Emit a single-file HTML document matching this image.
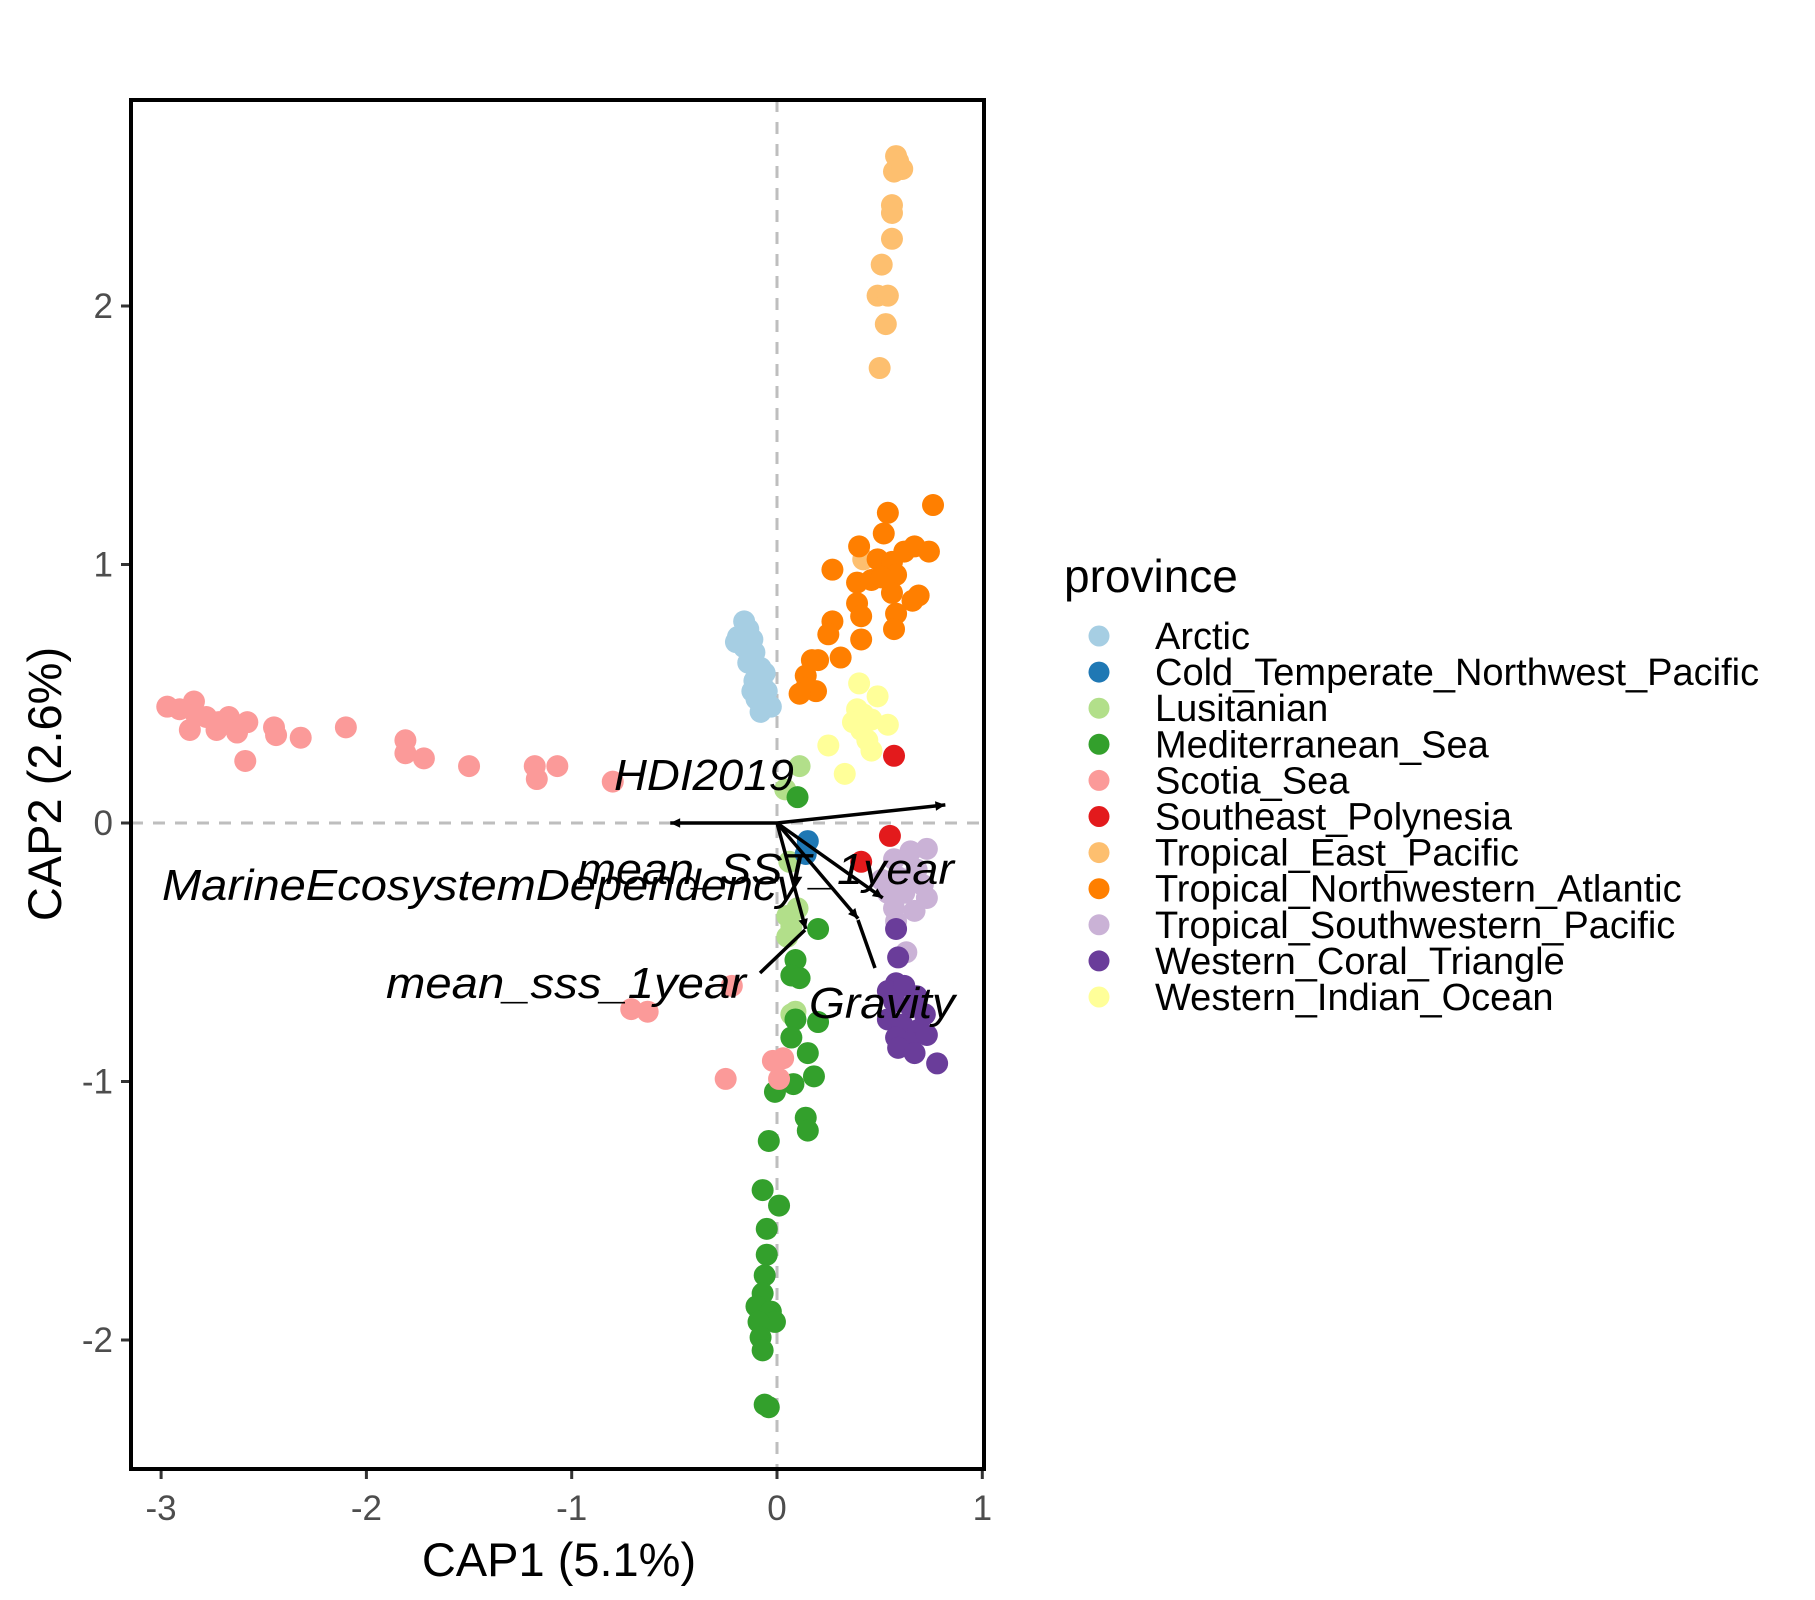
<!DOCTYPE html>
<html><head><meta charset="utf-8"><style>
html,body{margin:0;padding:0;background:#fff}
svg{display:block}
text{font-family:"Liberation Sans",sans-serif}
</style></head><body>
<svg id="chart" width="1815" height="1600" viewBox="0 0 1815 1600" xmlns="http://www.w3.org/2000/svg">
<rect x="0" y="0" width="1815" height="1600" fill="#fff"/>
<g id="panel"></g>
</svg>
<script>
const xTicks=[-3,-2,-1,0,1];
const yTicks=[-2,-1,0,1,2];
const xTickLabels=["-3","-2","-1","0","1"];
const yTickLabels=["-2","-1","0","1","2"];
const provinces=["Arctic","Cold_Temperate_Northwest_Pacific","Lusitanian","Mediterranean_Sea","Scotia_Sea","Southeast_Polynesia","Tropical_East_Pacific","Tropical_Northwestern_Atlantic","Tropical_Southwestern_Pacific","Western_Coral_Triangle","Western_Indian_Ocean"];
const provColors=["#A6CEE3","#1F78B4","#B2DF8A","#33A02C","#FB9A99","#E31A1C","#FDBF6F","#FF7F00","#CAB2D6","#6A3D9A","#FFFF99"];
const arcticX=[-0.16,-0.14,-0.19,-0.12,-0.20,-0.16,-0.11,-0.14,-0.08,-0.06,-0.11,-0.07,-0.05,-0.10,-0.03,-0.08,-0.12];
const arcticY=[0.78,0.75,0.72,0.71,0.70,0.68,0.66,0.62,0.60,0.58,0.55,0.53,0.51,0.48,0.45,0.43,0.51];
const coldX=[0.15,0.14];
const coldY=[-0.07,-0.12];
const lusiX=[0.11,0.04,0.06,0.05,0.07,0.05,0.10,0.07,0.09];
const lusiY=[0.22,0.13,-0.15,-0.36,-0.40,-0.44,-0.33,-0.74,-0.73];
const mediX=[0.10,0.20,0.09,0.07,0.11,0.09,0.20,0.07,0.15,0.18,0.08,-0.01,0.14,0.15,-0.04,-0.07,0.01,-0.05,-0.05,-0.06,-0.07,-0.10,-0.03,-0.01,-0.09,-0.08,-0.07,-0.06,-0.04];
const mediY=[0.10,-0.41,-0.53,-0.59,-0.60,-0.76,-0.77,-0.83,-0.89,-0.98,-1.01,-1.04,-1.14,-1.19,-1.23,-1.42,-1.48,-1.57,-1.67,-1.75,-1.82,-1.87,-1.89,-1.93,-1.93,-1.99,-2.04,-2.25,-2.26];
const scotX=[-2.97,-2.91,-2.84,-2.83,-2.86,-2.78,-2.72,-2.67,-2.73,-2.63,-2.58,-2.59,-2.45,-2.44,-2.32,-2.10,-1.81,-1.81,-1.72,-1.50,-1.18,-1.17,-1.07,-0.80,-0.71,-0.63,-0.22,-0.25,-0.02,0.03,0.01];
const scotY=[0.45,0.44,0.47,0.42,0.36,0.41,0.39,0.41,0.36,0.35,0.39,0.24,0.37,0.34,0.33,0.37,0.32,0.27,0.25,0.22,0.22,0.17,0.22,0.16,-0.72,-0.73,-0.63,-0.99,-0.92,-0.91,-0.99];
const sepoX=[0.57,0.55,0.41];
const sepoY=[0.26,-0.05,-0.15];
const tepX=[0.58,0.59,0.57,0.61,0.56,0.56,0.56,0.51,0.49,0.54,0.53,0.50,0.42];
const tepY=[2.58,2.56,2.52,2.53,2.39,2.36,2.26,2.16,2.04,2.04,1.93,1.76,1.02];
const tnaX=[0.76,0.54,0.40,0.52,0.49,0.56,0.67,0.74,0.62,0.27,0.39,0.46,0.58,0.69,0.66,0.39,0.56,0.41,0.27,0.25,0.58,0.57,0.41,0.31,0.17,0.20,0.14,0.14,0.19,0.11,0.51];
const tnaY=[1.23,1.20,1.07,1.12,1.02,1.01,1.07,1.05,1.05,0.98,0.93,0.94,0.96,0.88,0.86,0.85,0.89,0.80,0.78,0.73,0.81,0.75,0.71,0.64,0.63,0.63,0.57,0.52,0.51,0.50,0.95];
const tswpX=[0.65,0.73,0.57,0.68,0.59,0.71,0.54,0.62,0.73,0.57,0.67,0.58,0.63,0.51,0.65];
const tswpY=[-0.11,-0.10,-0.14,-0.18,-0.21,-0.24,-0.27,-0.27,-0.29,-0.33,-0.34,-0.38,-0.50,-0.22,-0.22];
const wctX=[0.58,0.59,0.58,0.54,0.62,0.68,0.57,0.65,0.72,0.54,0.61,0.69,0.58,0.65,0.73,0.59,0.67,0.78];
const wctY=[-0.41,-0.52,-0.62,-0.65,-0.63,-0.67,-0.69,-0.71,-0.74,-0.76,-0.78,-0.80,-0.83,-0.85,-0.82,-0.87,-0.89,-0.93];
const wioX=[0.40,0.49,0.39,0.42,0.37,0.46,0.54,0.41,0.44,0.46,0.25,0.33];
const wioY=[0.54,0.49,0.44,0.42,0.39,0.40,0.38,0.36,0.32,0.28,0.30,0.19];
const arrowNames=["HDI2019","MarineEcosystemDependency","mean_SST_1year","mean_sss_1year","Gravity"];
const arrowX=[0.82,-0.52,0.515,0.14,0.395];
const arrowY=[0.07,0.0,-0.29,-0.41,-0.37];

const NS="http://www.w3.org/2000/svg";
const svg=document.getElementById('chart');
const panel=document.getElementById('panel');
const L=131,R=984,T=100,B=1469;
const X0=777,UX=205.3,Y0=823,UY=258.5;
function sx(v){return X0+v*UX;}
function sy(v){return Y0-v*UY;}
function mk(tag,attrs,parent){const e=document.createElementNS(NS,tag);for(const k in attrs)e.setAttribute(k,attrs[k]);(parent||svg).appendChild(e);return e;}

let e=mk('rect',{x:L,y:T,width:R-L,height:B-T,fill:'#fff'},panel);


e=mk('line',{x1:L,x2:R,y1:sy(0),y2:sy(0),stroke:'#BEBEBE','stroke-width':3,'stroke-dasharray':'12,10'},panel);


e=mk('line',{x1:sx(0),x2:sx(0),y1:T,y2:B,stroke:'#BEBEBE','stroke-width':3,'stroke-dasharray':'12,10'},panel);



const series=[[arcticX,arcticY],[coldX,coldY],[lusiX,lusiY],[mediX,mediY],[scotX,scotY],[sepoX,sepoY],[tepX,tepY],[tnaX,tnaY],[tswpX,tswpY],[wctX,wctY],[wioX,wioY]];
const drawOrder=[0,2,3,4,6,7,10,5,1,8,9];
drawOrder.forEach(si=>{
  const g=mk('g',{},panel);
  
  
  const xs=series[si][0],ys=series[si][1];
  for(let i=0;i<xs.length;i++){
    const c=mk('circle',{cx:sx(xs[i]),cy:sy(ys[i]),r:11,fill:provColors[si]},g);
    
    
  }
});

const ag=mk('g',{},panel);


for(let i=0;i<arrowX.length;i++){
  const x2=sx(arrowX[i]),y2=sy(arrowY[i]);
  const ln=mk('line',{x1:sx(0),y1:sy(0),x2:x2,y2:y2,stroke:'#000','stroke-width':3.5},ag);
  
  
  const ang=Math.atan2(y2-sy(0),x2-sx(0)),h=11,w=0.45;
  const p=[[x2,y2],[x2-h*Math.cos(ang-w),y2-h*Math.sin(ang-w)],[x2-h*Math.cos(ang+w),y2-h*Math.sin(ang+w)]];
  const hd=mk('polygon',{points:p.map(q=>q.join(',')).join(' '),fill:'#000'},ag);
  
  
}
e=mk('line',{x1:760,y1:973,x2:805,y2:930,stroke:'#000','stroke-width':3.5},ag);


e=mk('line',{x1:858,y1:920,x2:875,y2:968,stroke:'#000','stroke-width':3.5},ag);



const labs=[["HDI2019",614,790,180],["MarineEcosystemDependency",162,900,638],["mean_SST_1year",577,884,377],["mean_sss_1year",386,998,360],["Gravity",809,1018,146]];
labs.forEach(l=>{
  const t=mk('text',{x:l[1],y:l[2],'font-size':44,'font-style':'italic',fill:'#000',textLength:l[3],lengthAdjust:'spacingAndGlyphs'},panel);
  t.textContent=l[0];
  
  
});

e=mk('rect',{x:L,y:T,width:R-L,height:B-T,fill:'none',stroke:'#000','stroke-width':4},panel);



const xa=mk('g',{});


xTicks.forEach((v,i)=>{
  const tk=mk('line',{x1:sx(v),x2:sx(v),y1:B+2,y2:B+10,stroke:'#333','stroke-width':3},xa);
  
  
  const t=mk('text',{x:sx(v),y:1520,'font-size':35,'text-anchor':'middle',fill:'#4D4D4D'},xa);
  t.textContent=xTickLabels[i];
  
  
});
const ya=mk('g',{});


yTicks.forEach((v,i)=>{
  const tk=mk('line',{x1:L-10,x2:L-2,y1:sy(v),y2:sy(v),stroke:'#333','stroke-width':3},ya);
  
  
  const t=mk('text',{x:L-18,y:sy(v)+12,'font-size':35,'text-anchor':'end',fill:'#4D4D4D'},ya);
  t.textContent=yTickLabels[i];
  
  
});
e=mk('text',{x:559,y:1576,'font-size':47,'text-anchor':'middle',fill:'#000'});
e.textContent='CAP1 (5.1%)';


e=mk('text',{x:0,y:0,'font-size':47,'text-anchor':'middle',fill:'#000',transform:'translate(61,784) rotate(-90)'});
e.textContent='CAP2 (2.6%)';



const lg=mk('g',{});


e=mk('text',{x:1064,y:592,'font-size':46,fill:'#000'},lg);
e.textContent='province';


provinces.forEach((p,i)=>{
  const cy=636+i*36.1;
  const g=mk('g',{},lg);
  
  
  const c=mk('circle',{cx:1099,cy:cy,r:10.5,fill:provColors[i]},g);
  
  
  const t=mk('text',{x:1155,y:cy+13,'font-size':38,fill:'#000'},g);
  t.textContent=p;
  
  
});
</script>
</body></html>
